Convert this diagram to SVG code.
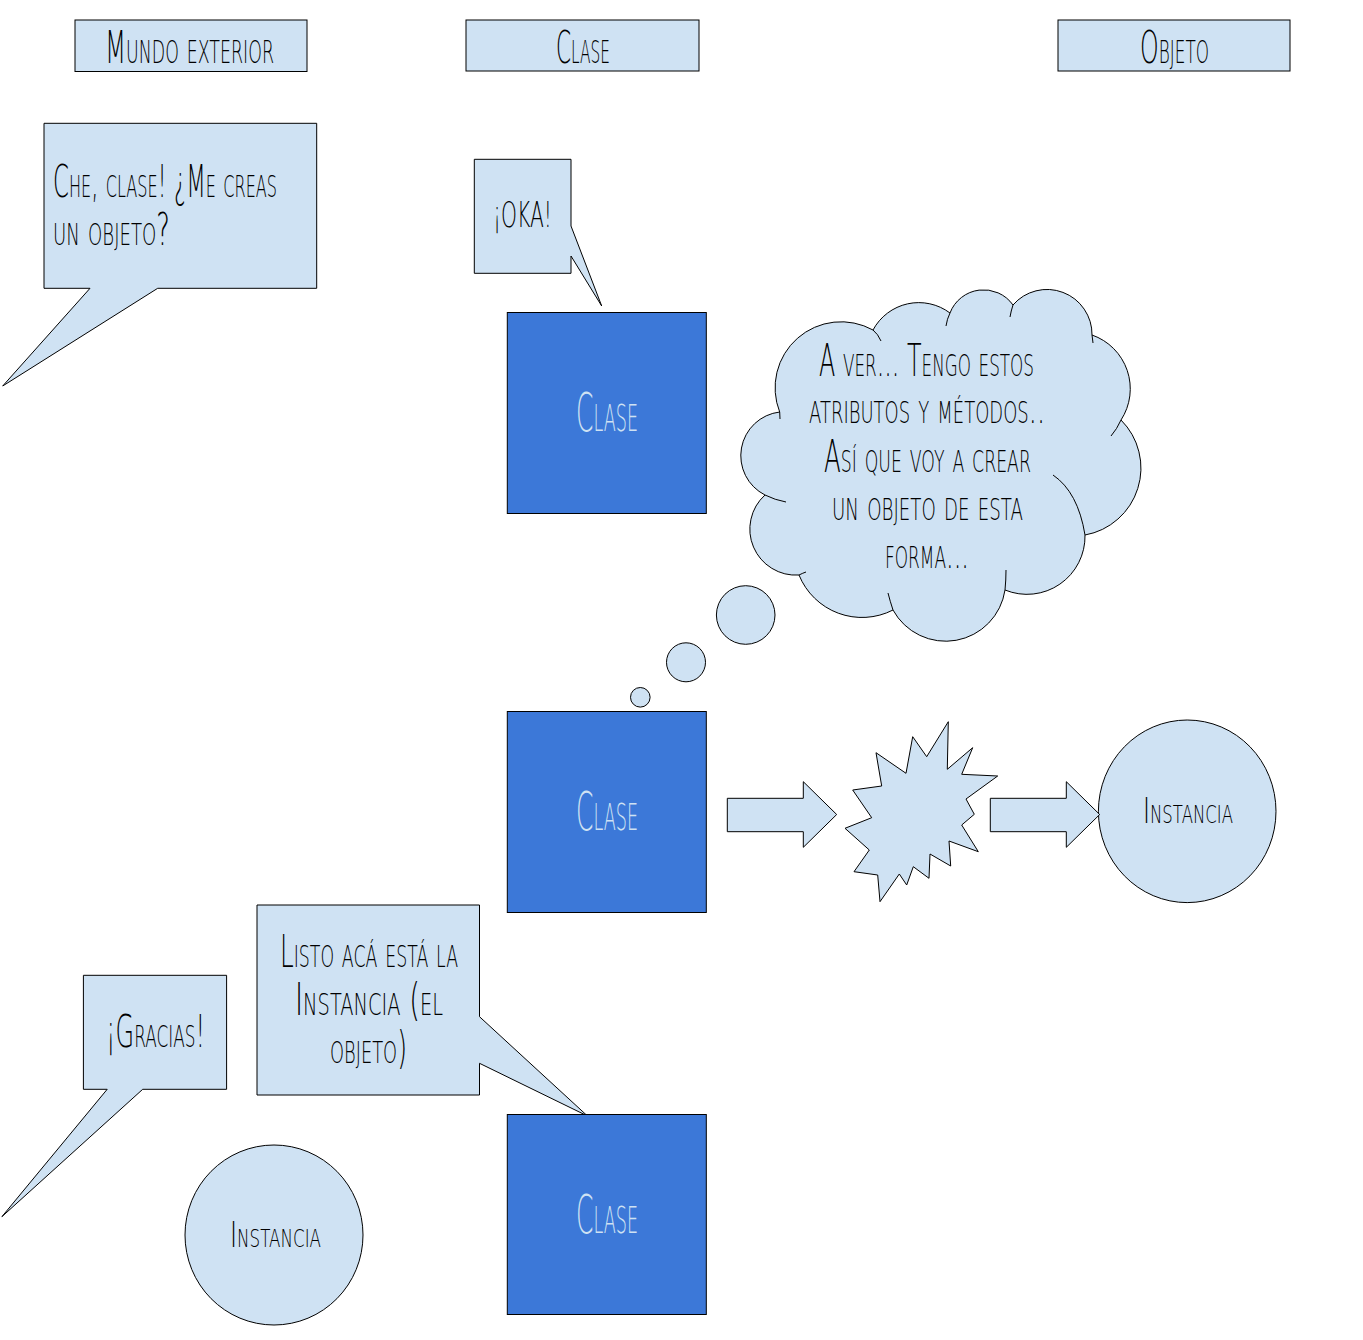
<svg xmlns="http://www.w3.org/2000/svg" width="1363" height="1340" viewBox="0 0 1363 1340">
<defs>
<style>
.box{fill:#cfe2f3;stroke:#000;stroke-width:1}
.cls{fill:#3c78d8;stroke:#000;stroke-width:1}
.stub{fill:none;stroke:#000;stroke-width:1}
.t{font-family:"DejaVu Sans","Liberation Sans",sans-serif;font-weight:200;font-variant:small-caps;fill:#000}
.tc{font-family:"DejaVu Sans","Liberation Sans",sans-serif;font-weight:200;font-variant:small-caps;fill:#cfe2f3}
</style>
</defs>
<rect width="1363" height="1340" fill="#fff"/>

<g id="hdr-mundo">
<rect class="box" x="75" y="20" width="232" height="51.5"/>
<text class="t" x="105" y="63" font-size="45" textLength="169" lengthAdjust="spacingAndGlyphs">Mundo exterior</text>
</g>
<g id="hdr-clase">
<rect class="box" x="466" y="20" width="233" height="51"/>
<text class="t" x="556" y="63" font-size="45" textLength="54" lengthAdjust="spacingAndGlyphs">Clase</text>
</g>
<g id="hdr-objeto">
<rect class="box" x="1058" y="20" width="232" height="51"/>
<text class="t" x="1140" y="63" font-size="45" textLength="69" lengthAdjust="spacingAndGlyphs">Objeto</text>
</g>

<g id="callout-pedido">
<path class="box" d="M44,123.3 H316.7 V288.3 H157.7 L2.7,386 L90,288.3 H44 Z"/>
<text class="t" x="53" y="197" font-size="44" textLength="224" lengthAdjust="spacingAndGlyphs">Che, clase! ¿Me creas</text>
<text class="t" x="53" y="245" font-size="44" textLength="117" lengthAdjust="spacingAndGlyphs">un objeto?</text>
</g>

<g id="callout-oka">
<path class="box" d="M474.3,159.3 H571 V226 L601.7,306 L571,256 V273.3 H474.3 Z"/>
<text class="t" x="493" y="227" font-size="35" style="font-variant:normal" textLength="59" lengthAdjust="spacingAndGlyphs">¡OKA!</text>
</g>

<g id="clase-1">
<rect class="cls" x="507.3" y="312.5" width="199" height="201"/>
<text class="tc" x="576" y="431" font-size="54" textLength="62" lengthAdjust="spacingAndGlyphs">Clase</text>
</g>

<g id="nube">
<circle class="box" cx="745.7" cy="615" r="29.3"/>
<circle class="box" cx="686" cy="662.3" r="19.5"/>
<circle class="box" cx="640.3" cy="697.3" r="9.8"/>
<path class="box" d="M779.7,412 A66,66 0 0 1 873,330 A52,52 0 0 1 950,313 A36,36 0 0 1 1013,305 A45,45 0 0 1 1092,335 A57,57 0 0 1 1121,420 A68,68 0 0 1 1085,535 A58,58 0 0 1 1005,590 A60,60 0 0 1 893,610 A68,68 0 0 1 799,575 A46,46 0 0 1 765,495 A44,44 0 0 1 779.7,412 Z"/>
<path class="stub" d="M779.7,412 L780,419 M873,330 Q878,334 881,341 M950,313 Q947,319 946,326 M1013,305 Q1011,311 1010,317 M1092,335 L1093,343 M1121,420 Q1117,429 1111,436 M1085,535 Q1078,492 1053,475 M1005,590 Q1006,580 1006,570 M893,610 Q890,601 888,593 M799,575 Q803,573 806,572 M765,495 Q775,500 786,502"/>
<text class="t" x="819" y="376" font-size="44" textLength="215" lengthAdjust="spacingAndGlyphs">A ver... Tengo estos</text>
<text class="t" x="809" y="423" font-size="44" textLength="236" lengthAdjust="spacingAndGlyphs">atributos y métodos..</text>
<text class="t" x="824" y="472" font-size="44" textLength="207" lengthAdjust="spacingAndGlyphs">Así que voy a crear</text>
<text class="t" x="832" y="520" font-size="44" textLength="191" lengthAdjust="spacingAndGlyphs">un objeto de esta</text>
<text class="t" x="885" y="568" font-size="44" textLength="84" lengthAdjust="spacingAndGlyphs">forma...</text>
</g>

<g id="clase-2">
<rect class="cls" x="507.3" y="711.5" width="199" height="201"/>
<text class="tc" x="576" y="830" font-size="54" textLength="62" lengthAdjust="spacingAndGlyphs">Clase</text>
</g>

<g id="explosion">
<polygon class="box" points="948.3,721.7 947.3,769.3 972.7,747.7 961.7,774.3 997.7,776 966,799 974.3,814.3 961.7,825 978.3,851.7 949,841 950.7,866 930,854 929,878.3 913.3,866.7 906.7,885 899.3,874 880,901.7 877.7,875 854,871.7 869.3,850 845,828.3 871.7,817.7 852.7,790 881.7,786 876,752.7 906,773.3 912.7,736.7 926.7,756.7"/>
</g>

<g id="instancia-1">
<ellipse class="box" cx="1187.2" cy="811.3" rx="88.8" ry="91.3"/>
<text class="t" x="1143" y="823" font-size="36" textLength="90" lengthAdjust="spacingAndGlyphs">Instancia</text>
</g>

<g id="connectors">
<path class="box" d="M727.3,798.3 H803.3 V781.7 L836.7,814.5 L803.3,847.3 V831.7 H727.3 Z"/>
<path class="box" d="M990.3,798.3 H1066.3 V781.7 L1099.7,814.5 L1066.3,847.3 V831.7 H990.3 Z"/>
</g>

<g id="callout-listo">
<path class="box" d="M257,905 H479.5 V1016.7 L587.5,1116 L479.5,1063.3 V1095 H257 Z"/>
<text class="t" x="280" y="967" font-size="44" textLength="178" lengthAdjust="spacingAndGlyphs">Listo acá está la</text>
<text class="t" x="295" y="1015" font-size="44" textLength="148" lengthAdjust="spacingAndGlyphs">Instancia (el</text>
<text class="t" x="330" y="1063" font-size="44" textLength="77" lengthAdjust="spacingAndGlyphs">objeto)</text>
</g>

<g id="callout-gracias">
<path class="box" d="M83.4,975.3 H226.6 V1089.3 H142.7 L1.9,1216.7 L107.2,1089.3 H83.4 Z"/>
<text class="t" x="106" y="1047" font-size="44" textLength="99" lengthAdjust="spacingAndGlyphs">¡Gracias!</text>
</g>

<g id="instancia-2">
<ellipse class="box" cx="274" cy="1235" rx="89" ry="90"/>
<text class="t" x="230" y="1247" font-size="36" textLength="91" lengthAdjust="spacingAndGlyphs">Instancia</text>
</g>

<g id="clase-3">
<rect class="cls" x="507.3" y="1114.5" width="199" height="200"/>
<text class="tc" x="576" y="1232.5" font-size="54" textLength="62" lengthAdjust="spacingAndGlyphs">Clase</text>
</g>
</svg>
